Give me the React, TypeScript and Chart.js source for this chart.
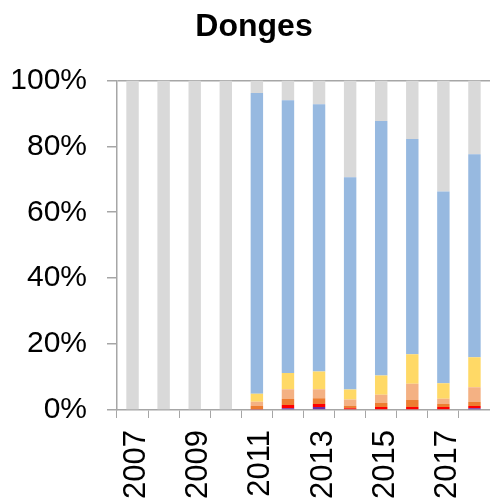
import React, { useEffect, useRef } from "react";
import { Chart, registerables } from "chart.js";

Chart.register(...registerables);

const years = ["2007", "2008", "2009", "2010", "2011", "2012", "2013", "2014", "2015", "2016", "2017", "2018"];
const purple = [0, 0, 0, 0, 0, 0.5, 0.9, 0, 0, 0, 0, 0.5];
const red = [0, 0, 0, 0, 0.3, 1.0, 0.9, 0.5, 0.9, 0.9, 0.9, 0.7];
const darkOrange = [0, 0, 0, 0, 0.9, 1.8, 1.8, 0.7, 1.2, 2.1, 0.9, 1.2];
const salmon = [0, 0, 0, 0, 1.3, 3.0, 2.7, 2.0, 2.5, 5.0, 1.6, 4.5];
const yellow = [0, 0, 0, 0, 2.4, 4.9, 5.4, 3.0, 5.9, 8.9, 4.7, 9.1];
const blue = [0, 0, 0, 0, 91.3, 82.8, 81.1, 64.4, 77.2, 65.3, 58.2, 61.6];
const grey = [100, 100, 100, 100, 3.8, 6.0, 7.2, 29.4, 12.3, 17.8, 33.7, 22.4];
const yTicks = [0, 20, 40, 60, 80, 100];
const TITLE = "Donges";

const FONT = "'Liberation Sans', Arial, sans-serif";
const AXIS = "#a6a6a6";

const titlePlugin = {
  id: "offsetTitle",
  afterDraw(chart: any) {
    const c = chart.ctx;
    c.save();
    c.font = `bold 32px ${FONT}`;
    c.fillStyle = "#000";
    c.textAlign = "center";
    c.textBaseline = "middle";
    c.fillText(TITLE, 254, 27);
    c.restore();
  },
};

export default function App() {
  const ref = useRef<HTMLCanvasElement | null>(null);
  useEffect(() => {
    document.body.style.margin = "0";
    const ctx = ref.current!.getContext("2d")!;
    const mk = (label: string, data: number[], color: string) => ({
      label,
      data,
      backgroundColor: color,
      borderWidth: 0,
      barPercentage: 0.4,
      categoryPercentage: 1,
    });
    const chart = new Chart(ctx, {
      type: "bar",
      data: {
        labels: years,
        datasets: [
          mk("purple", purple, "#7030a0"),
          mk("red", red, "#ff0000"),
          mk("darkOrange", darkOrange, "#ed7d31"),
          mk("salmon", salmon, "#f4b183"),
          mk("yellow", yellow, "#ffd966"),
          mk("blue", blue, "#97b9e0"),
          mk("grey", grey, "#d9d9d9"),
        ],
      },
      plugins: [titlePlugin],
      options: {
        animation: false,
        responsive: false,
        maintainAspectRatio: false,
        layout: { padding: { left: 0, right: 0, top: 0, bottom: 0 } },
        plugins: {
          legend: { display: false },
          tooltip: { enabled: false },
          title: {
            display: true,
            text: TITLE,
            color: "rgba(0,0,0,0)",
            font: { family: FONT, size: 32, weight: "bold" },
            padding: { top: 8, bottom: 34 },
          },
        },
        scales: {
          x: {
            stacked: true,
            offset: true,
            grid: {
              offset: true,
              drawOnChartArea: false,
              drawTicks: true,
              tickLength: 8,
              tickColor: AXIS,
              color: AXIS,
            },
            border: { display: true, color: AXIS, width: 1.5 },
            ticks: {
              autoSkip: false,
              minRotation: 90,
              maxRotation: 90,
              padding: 12,
              labelOffset: 4,
              color: "#000",
              font: { family: FONT, size: 31 },
              callback: (_v: any, i: number) => (i % 2 === 0 ? years[i] : ""),
            },
            afterFit: (s: any) => {
              s.height = 540 - 410;
              s.paddingLeft = 0;
              s.paddingRight = 0;
            },
          },
          y: {
            stacked: true,
            min: 0,
            max: 100,
            afterBuildTicks: (s: any) => {
              s.ticks = yTicks.map((v) => ({ value: v }));
            },
            grid: {
              drawOnChartArea: true,
              drawTicks: true,
              tickLength: 10,
              tickColor: AXIS,
              color: (c: any) => (c.tick && c.tick.value === 100 ? AXIS : "rgba(0,0,0,0)"),
              lineWidth: 1.5,
            },
            border: { display: true, color: AXIS, width: 1.5 },
            ticks: {
              padding: 20,
              color: "#000",
              font: { family: FONT, size: 30 },
              callback: (v: any) => v + "%",
            },
            afterFit: (s: any) => {
              s.width = 117;
              s.paddingTop = 0;
              s.paddingBottom = 0;
            },
          },
        },
      },
    } as any);
    return () => chart.destroy();
  }, []);
  return (
    <div style={{ position: "absolute", left: 0, top: 0, width: 490, height: 499, overflow: "hidden", background: "#fff" }}>
      <canvas ref={ref} width={490} height={540} style={{ display: "block", width: 490, height: 540 }} />
    </div>
  );
}
